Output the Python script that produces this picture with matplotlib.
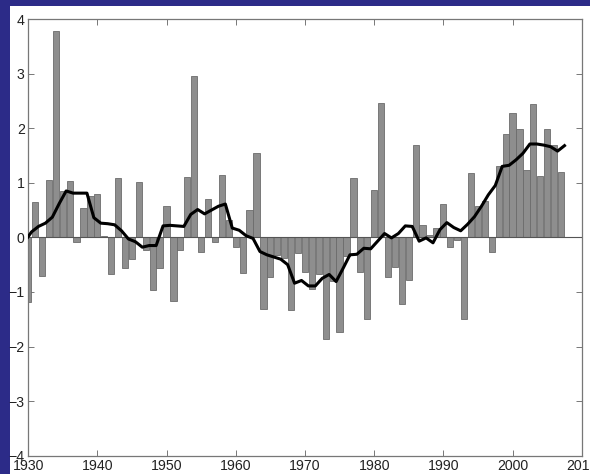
import numpy as np
import matplotlib
matplotlib.use('Agg')
import matplotlib.pyplot as plt
from matplotlib.patches import Rectangle

plt.rcParams['font.family'] = ['Liberation Sans', 'DejaVu Sans']

# yearly anomalies (bars)
years = np.arange(1930, 2008)
anom = [-1.19, 0.64, -0.71, 1.05, 3.78, 0.85, 1.03, -0.09, 0.54, 0.75,
        0.80, 0.02, -0.68, 1.09, -0.56, -0.40, 1.01, -0.23, -0.96, -0.56,
        0.58, -1.17, -0.23, 1.11, 2.95, -0.26, 0.71, -0.09, 1.14, 0.32,
        -0.18, -0.65, 0.50, 1.54, -1.31, -0.73, -0.32, -0.38, -1.34, -0.28,
        -0.64, -0.95, -0.68, -1.86, -0.80, -1.74, -0.35, 1.09, -0.64, -1.50,
        0.86, 2.47, -0.73, -0.54, -1.22, -0.78, 1.69, 0.23, 0.05, 0.17,
        0.61, -0.18, -0.05, -1.50, 1.17, 0.57, 0.67, -0.27, 1.30, 1.90,
        2.28, 1.99, 1.23, 2.44, 1.12, 1.99, 1.70, 1.19]

# running mean, centred on half years
smooth_years = np.arange(1929.5, 2008.0, 1.0)
smooth = [-0.08, 0.10, 0.20, 0.26, 0.37, 0.62, 0.85, 0.81, 0.81, 0.81,
          0.36, 0.26, 0.25, 0.23, 0.12, -0.03, -0.08, -0.18, -0.15, -0.15,
          0.21, 0.22, 0.21, 0.20, 0.42, 0.51, 0.43, 0.50, 0.57, 0.61,
          0.17, 0.13, 0.03, -0.02, -0.26, -0.32, -0.36, -0.40, -0.50, -0.84,
          -0.79, -0.89, -0.89, -0.75, -0.68, -0.81, -0.57, -0.32, -0.31, -0.20,
          -0.21, -0.07, 0.07, -0.01, 0.07, 0.21, 0.20, -0.07, -0.01, -0.10,
          0.14, 0.27, 0.18, 0.12, 0.24, 0.38, 0.57, 0.78, 0.95, 1.30,
          1.32, 1.42, 1.54, 1.71, 1.71, 1.69, 1.66, 1.58, 1.68]

xticks = [1930, 1940, 1950, 1960, 1970, 1980, 1990, 2000, 2010]
yticks = [-4, -3, -2, -1, 0, 1, 2, 3, 4]

fig = plt.figure(figsize=(5.9, 4.74), dpi=100, facecolor='#2c2b88')
# white panel behind the plot
fig.patches.append(Rectangle((10/590, 0), 1, 1 - 6/474, transform=fig.transFigure,
                             facecolor='white', edgecolor='none', zorder=-5))

ax = fig.add_axes([28.1/590, 1 - 455.7/474, (581.8 - 28.1)/590, (455.7 - 19)/474])
ax.set_zorder(2)
ax.set_facecolor('white')

ax.bar(years, anom, width=0.9, color='#8e8e8e', edgecolor='#6c6c6c', linewidth=0.6, zorder=2)
ax.axhline(0, color='#555555', linewidth=0.8, zorder=3)
ax.plot(smooth_years, smooth, color='black', linewidth=2.2, zorder=4)

ax.set_xlim(1930, 2010)
ax.set_ylim(-4, 4)
ax.set_xticks(xticks)
ax.set_yticks(yticks)
ax.set_xticklabels([str(t) for t in xticks])
ax.set_yticklabels(['\u2212%d' % -t if t < 0 else str(t) for t in yticks])

ax.tick_params(direction='in', length=4, width=0.7, color='#777777',
               top=True, right=True, labelsize=10.2, labelcolor='#222222', pad=2.5)
for s in ax.spines.values():
    s.set_color('#777777')
    s.set_linewidth(0.9)

fig.savefig('out.png', dpi=100, facecolor=fig.get_facecolor())
